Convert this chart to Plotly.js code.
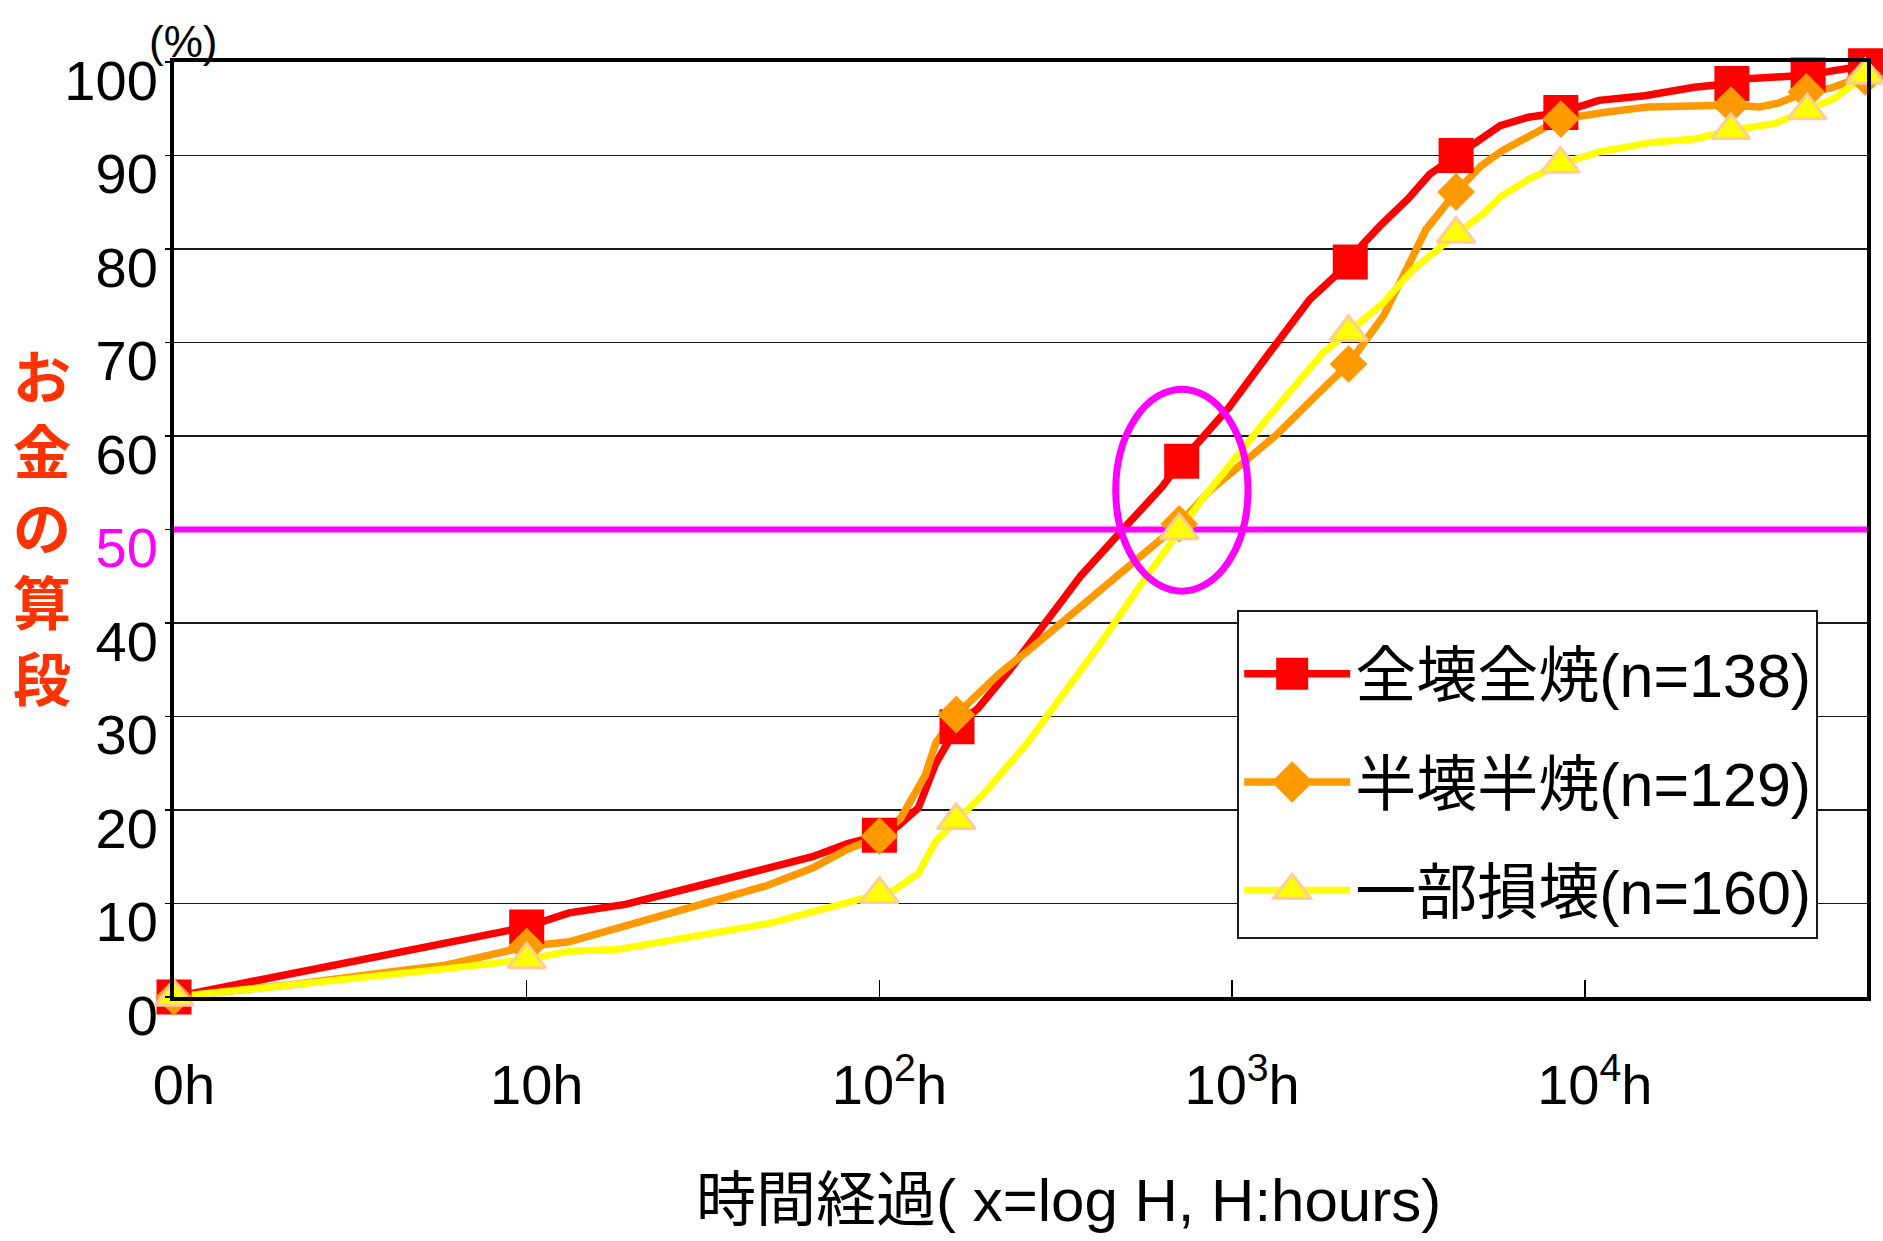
<!DOCTYPE html>
<html><head><meta charset="utf-8">
<script src="https://cdn.plot.ly/plotly-3.0.1.min.js"></script>
<style>html,body{margin:0;padding:0;background:#fff;} #chart{width:1883px;height:1241px;}</style>
</head><body><div id="chart"></div>
<script>
// x = log10(hours), y = cumulative %
const seriesNames = ['全壊全焼(n=138)', '半壊半焼(n=129)', '一部損壊(n=160)'];

const xRed = [0, 0.35, 0.64, 1.0, 1.12, 1.28, 1.53, 1.69, 1.81, 1.91, 2.0, 2.05, 2.11, 2.16, 2.22, 2.28, 2.37, 2.47, 2.57, 2.69, 2.80, 2.857, 2.99, 3.10, 3.22, 3.335, 3.37, 3.42, 3.50, 3.56, 3.635, 3.71, 3.76, 3.84, 3.932, 4.04, 4.17, 4.31, 4.36, 4.417, 4.46, 4.54, 4.633, 4.71, 4.75, 4.796];
const yRed = [0, 2.6, 4.8, 7.5, 9.0, 9.9, 12.3, 13.8, 15.0, 16.4, 17.3, 18.2, 20.2, 25.0, 28.9, 30.9, 35.0, 40.0, 45.0, 50.0, 54.5, 57.3, 63.0, 68.6, 74.6, 78.6, 80.5, 82.5, 85.4, 88.0, 90.0, 92.1, 93.2, 94.1, 94.6, 95.9, 96.4, 97.3, 97.4, 97.7, 98.2, 98.3, 98.6, 99.1, 99.4, 99.6];
const xRedMk = [0, 1.0, 2.0, 2.22, 2.857, 3.335, 3.635, 3.932, 4.417, 4.633, 4.796];
const yRedMk = [0, 7.5, 17.3, 28.9, 57.3, 78.6, 90.0, 94.6, 97.7, 98.6, 99.6];

const xOrange = [0, 0.35, 0.64, 0.77, 1.0, 1.12, 1.40, 1.68, 1.81, 1.91, 2.0, 2.06, 2.13, 2.16, 2.218, 2.34, 2.44, 2.58, 2.73, 2.85, 2.935, 3.125, 3.24, 3.33, 3.43, 3.49, 3.55, 3.635, 3.706, 3.765, 3.843, 3.932, 4.054, 4.18, 4.306, 4.414, 4.495, 4.548, 4.628, 4.697, 4.749, 4.795];
const yOrange = [0, 1.4, 2.8, 3.4, 5.4, 5.9, 8.9, 11.9, 13.8, 15.8, 17.2, 19.1, 23.7, 27.2, 30.2, 34.6, 37.6, 42.1, 46.7, 50.6, 54.1, 60.1, 64.4, 67.7, 72.9, 77.5, 82.1, 86.1, 88.9, 90.5, 92.1, 93.9, 94.6, 95.2, 95.3, 95.4, 95.2, 95.6, 96.8, 97.2, 97.9, 98.4];
const xOrangeMk = [0, 1.0, 2.0, 2.218, 2.85, 3.33, 3.635, 3.932, 4.414, 4.628, 4.795];
const yOrangeMk = [0, 5.4, 17.2, 30.2, 50.6, 67.7, 86.1, 93.9, 95.4, 96.8, 98.4];

const xYellow = [0, 0.35, 0.64, 0.74, 1.0, 1.12, 1.26, 1.69, 1.78, 2.0, 2.04, 2.11, 2.16, 2.218, 2.29, 2.42, 2.54, 2.63, 2.73, 2.85, 2.91, 3.10, 3.26, 3.33, 3.43, 3.51, 3.60, 3.635, 3.706, 3.765, 3.843, 3.931, 4.043, 4.19, 4.316, 4.414, 4.538, 4.63, 4.707, 4.795];
const yYellow = [0, 1.3, 2.5, 2.9, 4.0, 4.9, 5.1, 7.9, 8.8, 11.0, 11.4, 13.2, 16.7, 18.9, 21.5, 27.2, 33.3, 38.0, 43.5, 49.9, 53.0, 61.9, 69.0, 71.1, 74.3, 77.7, 80.6, 81.6, 83.6, 85.7, 87.5, 89.1, 90.4, 91.4, 91.8, 92.7, 93.4, 94.8, 96.1, 98.6];
const xYellowMk = [0, 1.0, 2.0, 2.218, 2.85, 3.33, 3.635, 3.931, 4.414, 4.63, 4.795];
const yYellowMk = [0, 4.0, 11.0, 18.9, 49.9, 71.1, 81.6, 89.1, 92.7, 94.8, 98.6];

const xTickVals = [0, 1, 2, 3, 4];
const xTickText = ['0h', '10h', '10<sup>2</sup>h', '10<sup>3</sup>h', '10<sup>4</sup>h'];
const yTickVals = [0, 10, 20, 30, 40, 50, 60, 70, 80, 90, 100];
const yTickText = ['0', '10', '20', '30', '40', '<span style="color:#ff00ff">50</span>', '60', '70', '80', '90', '100'];

const xRange = [0, 4.8];                   // log10(hours) shown
const yRange = [0, 100];
const refLevel = 50;                       // horizontal reference line (%)
const ellipseX = [2.67, 3.045];            // highlighted region (log hours)
const ellipseY = [43.4, 65.0];             // highlighted region (%)

const FONT = '"Liberation Sans", Arial, "Noto Sans CJK JP", sans-serif';

const styles = [
  {color: '#ff0000', symbol: 'square', size: 35, lineColor: '#ff0000', lw: 0, width: 7.5},
  {color: '#ff9900', symbol: 'diamond', size: 29, lineColor: '#ff9900', lw: 0, width: 7.5},
  {color: '#ffff00', symbol: 'triangle-up', size: 33, lineColor: '#ffcc99', lw: 3, width: 7}
];
const lineX = [xRed, xOrange, xYellow], lineY = [yRed, yOrange, yYellow];
const mkX = [xRedMk, xOrangeMk, xYellowMk], mkY = [yRedMk, yOrangeMk, yYellowMk];

const traces = [];
// curves
for (let i = 0; i < 3; i++) {
  const s = styles[i];
  traces.push({x: lineX[i], y: lineY[i], type: 'scatter', mode: 'lines', showlegend: false,
    line: {color: s.color, width: s.width}, cliponaxis: false, hoverinfo: 'skip', legendgroup: 'g' + i});
}
// 50% reference line (drawn over the curves, under the markers)
traces.push({x: xRange, y: [refLevel, refLevel], type: 'scatter', mode: 'lines', showlegend: false,
  line: {color: '#ff00ff', width: 6}, hoverinfo: 'skip'});
// markers
for (let i = 0; i < 3; i++) {
  const s = styles[i];
  traces.push({x: mkX[i], y: mkY[i], type: 'scatter', mode: 'markers', showlegend: false,
    marker: {color: s.color, symbol: s.symbol, size: s.size, line: {color: s.lineColor, width: s.lw}},
    cliponaxis: false, legendgroup: 'g' + i});
}
// legend entries
for (let i = 0; i < 3; i++) {
  const s = styles[i];
  traces.push({x: [null], y: [null], type: 'scatter', mode: 'lines+markers', name: seriesNames[i],
    legendgroup: 'g' + i, showlegend: true,
    line: {color: s.color, width: s.width},
    marker: {color: s.color, symbol: s.symbol, size: 16, line: {color: s.lineColor, width: s.lw / 2}}});
}

const layout = {
  width: 1883, height: 1241,
  margin: {l: 174, r: 16, t: 62, b: 244},
  paper_bgcolor: '#ffffff', plot_bgcolor: '#ffffff',
  font: {family: FONT, color: '#000000', size: 56},
  showlegend: true,
  xaxis: {
    range: xRange, showgrid: false, zeroline: false,
    showline: true, linecolor: '#000000', linewidth: 4, mirror: true,
    ticks: 'inside', ticklen: 17, tickwidth: 1.5, tickcolor: '#000000',
    tickvals: xTickVals, ticktext: xTickText,
    tickfont: {family: FONT, size: 56, color: '#000000'},
    ticklabelstandoff: 36, ticklabelshift: 10
  },
  yaxis: {
    range: yRange, showgrid: true, gridcolor: '#1a1a1a', gridwidth: 1.5, zeroline: false,
    showline: true, linecolor: '#000000', linewidth: 4, mirror: true,
    ticks: 'outside', ticklen: 5, tickwidth: 1.5, tickcolor: '#000000',
    tickvals: yTickVals, ticktext: yTickText,
    tickfont: {family: FONT, size: 56, color: '#000000'},
    ticklabelshift: 18, ticklabelstandoff: -4
  },
  legend: {
    x: 0.628, y: 0.414, xanchor: 'left', yanchor: 'top',
    bgcolor: '#ffffff', bordercolor: '#1a1a1a', borderwidth: 2,
    font: {family: FONT, size: 61, color: '#000000'},
    traceorder: 'grouped', tracegroupgap: 26, itemwidth: 106,
    title: {text: '&nbsp;', font: {size: 12}}
  },
  shapes: [
    {type: 'circle', xref: 'x', yref: 'y', x0: ellipseX[0], x1: ellipseX[1], y0: ellipseY[0], y1: ellipseY[1],
     line: {color: '#ff00ff', width: 7}, layer: 'above'}
  ],
  annotations: [
    {text: '(%)', xref: 'paper', yref: 'paper', x: 0.0053, y: 1.0214, xanchor: 'center', yanchor: 'middle',
     showarrow: false, font: {family: FONT, size: 44, color: '#000000'}},
    {text: 'お<br>金<br>の<br>算<br>段', xref: 'paper', yref: 'paper', x: -0.078, y: 0.505,
     xanchor: 'center', yanchor: 'middle', showarrow: false,
     font: {family: '"Noto Sans CJK JP", sans-serif', size: 58, color: '#ff3300', weight: 'bold'}},
    {text: '時間経過( x=log H, H:hours)', xref: 'paper', yref: 'paper', x: 0.5286, y: -0.218,
     xanchor: 'center', yanchor: 'middle', showarrow: false,
     font: {family: FONT, size: 60, color: '#000000'}}
  ]
};

Plotly.newPlot('chart', traces, layout, {displayModeBar: false, staticPlot: true}).then(function (gd) {
  // enlarge the legend markers (Plotly caps legend marker size at 16px)
  gd.querySelectorAll('.legend .traces path.scatterpts').forEach(function (p) {
    p.setAttribute('transform', 'translate(53,0) scale(2)');
  });
});
</script></body></html>
